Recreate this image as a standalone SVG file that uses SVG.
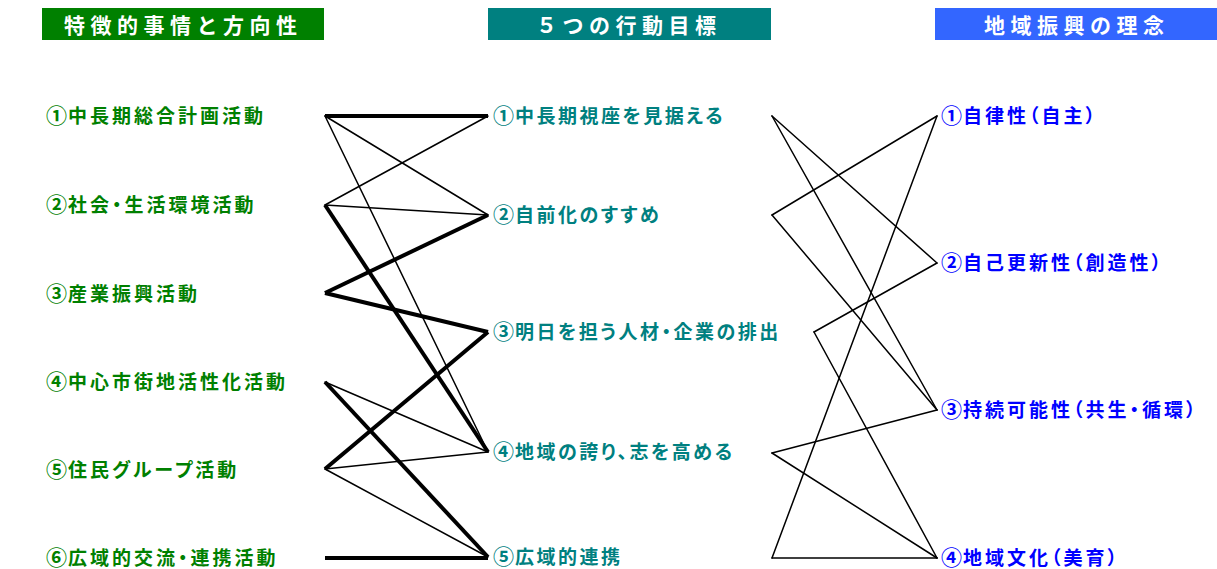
<svg xmlns="http://www.w3.org/2000/svg" width="1217" height="569" viewBox="0 0 1217 569">
<style>
text{font-family:"Noto Sans CJK JP","Noto Sans",sans-serif;font-weight:bold}
.hd{font-size:21px;letter-spacing:5.5px;fill:#fff}
.it{font-size:19px;letter-spacing:2.5px;font-feature-settings:"palt"}
.n{font-size:21px;letter-spacing:1px}
.l{fill:#008000;letter-spacing:3px}.m{fill:#008080}.r{fill:#0000ff;letter-spacing:3px}
.thin{stroke:#000;stroke-width:1.5;fill:none;stroke-linecap:round}
.thick{stroke:#000;stroke-width:4;fill:none;stroke-linecap:butt}
</style>
<rect width="1217" height="569" fill="#fff"/>
<g id="header-left"><rect x="42" y="8" width="282" height="32" fill="#008000"/><text class="hd" x="64" y="33">特徴的事情と方向性</text></g>
<g id="header-mid"><rect x="488" y="8" width="283" height="32" fill="#008080"/><text class="hd" x="536" y="33">５つの行動目標</text></g>
<g id="header-right"><rect x="935" y="8" width="282" height="32" fill="#3366ff"/><text class="hd" x="984" y="33">地域振興の理念</text></g>
<g id="connectors">
<g class="thick">
<line x1="325" y1="116" x2="488" y2="116"/>
<line x1="325" y1="205" x2="488" y2="452"/>
<line x1="325" y1="293" x2="488" y2="215"/>
<line x1="325" y1="293" x2="488" y2="332"/>
<line x1="325" y1="382" x2="488" y2="557"/>
<line x1="325" y1="469" x2="488" y2="332"/>
<line x1="325" y1="558" x2="488" y2="558"/>
</g>
<g class="thin">
<line x1="325" y1="116" x2="488" y2="215"/>
<line x1="325" y1="116" x2="488" y2="452"/>
<line x1="325" y1="205" x2="488" y2="116"/>
<line x1="325" y1="205" x2="488" y2="215"/>
<line x1="325" y1="382" x2="488" y2="452"/>
<line x1="325" y1="469" x2="488" y2="452"/>
<line x1="325" y1="469" x2="488" y2="557"/>
<line x1="772" y1="116" x2="937" y2="263"/>
<line x1="772" y1="116" x2="937" y2="410"/>
<line x1="772" y1="215" x2="937" y2="116"/>
<line x1="772" y1="215" x2="937" y2="410"/>
<line x1="814" y1="332" x2="937" y2="263"/>
<line x1="814" y1="332" x2="937" y2="558"/>
<line x1="772" y1="453" x2="937" y2="410"/>
<line x1="772" y1="453" x2="937" y2="558"/>
<line x1="772" y1="558" x2="937" y2="116"/>
<line x1="772" y1="558" x2="937" y2="558"/>
</g>
</g>
<g id="left-1"><text class="it l" x="46" y="123"><tspan class="n">①</tspan>中長期総合計画活動</text></g>
<g id="left-2"><text class="it l" x="46" y="212"><tspan class="n">②</tspan>社会・生活環境活動</text></g>
<g id="left-3"><text class="it l" x="46" y="301"><tspan class="n">③</tspan>産業振興活動</text></g>
<g id="left-4"><text class="it l" x="46" y="389"><tspan class="n">④</tspan>中心市街地活性化活動</text></g>
<g id="left-5"><text class="it l" x="46" y="477"><tspan class="n">⑤</tspan>住民グループ活動</text></g>
<g id="left-6"><text class="it l" x="46" y="565"><tspan class="n">⑥</tspan>広域的交流・連携活動</text></g>
<g id="mid-1"><text class="it m" x="493" y="123"><tspan class="n">①</tspan>中長期視座を見据える</text></g>
<g id="mid-2"><text class="it m" x="493" y="222"><tspan class="n">②</tspan>自前化のすすめ</text></g>
<g id="mid-3"><text class="it m" x="493" y="339"><tspan class="n">③</tspan>明日を担う人材・企業の排出</text></g>
<g id="mid-4"><text class="it m" x="493" y="459"><tspan class="n">④</tspan>地域の誇り、志を高める</text></g>
<g id="mid-5"><text class="it m" x="493" y="564"><tspan class="n">⑤</tspan>広域的連携</text></g>
<g id="right-1"><text class="it r" x="941" y="123"><tspan class="n">①</tspan>自律性（自主）</text></g>
<g id="right-2"><text class="it r" x="941" y="270"><tspan class="n">②</tspan>自己更新性（創造性）</text></g>
<g id="right-3"><text class="it r" x="941" y="417"><tspan class="n">③</tspan>持続可能性（共生・循環）</text></g>
<g id="right-4"><text class="it r" x="941" y="565"><tspan class="n">④</tspan>地域文化（美育）</text></g>
</svg>
